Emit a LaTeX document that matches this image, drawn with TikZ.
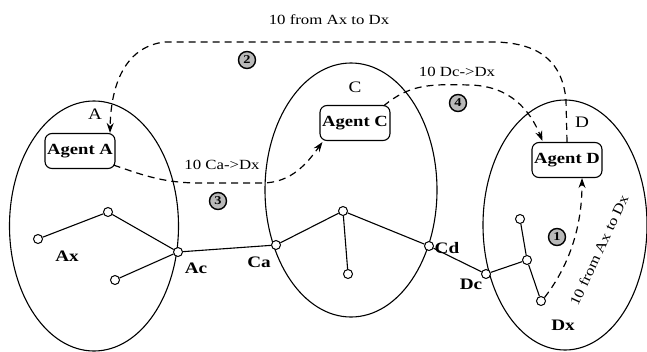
\documentclass[tikz,border=0pt]{standalone}
\usepackage{fontspec}
\setmainfont{Liberation Serif}[FakeStretch=1.2]
\usetikzlibrary{arrows.meta,calc,shapes.geometric}
\tikzset{
  region/.style={ellipse,draw,line width=1.1pt,inner sep=0pt},
  agent/.style={draw,line width=1.1pt,rounded corners=7pt,minimum width=70pt,minimum height=35pt,
                inner sep=1pt,font=\fontsize{15.5}{17}\selectfont\bfseries},
  host/.style={circle,draw,fill=white,line width=1pt,inner sep=0pt,minimum size=9pt},
  hlbl/.style={font=\fontsize{16}{18}\selectfont\bfseries},
  rlbl/.style={font=\fontsize{16}{18}\selectfont},
  msg/.style={font=\fontsize{14}{16}\selectfont},
  hop/.style={circle,draw,line width=1.4pt,fill=gray!55,inner sep=0pt,minimum size=17pt,
              font=\fontsize{12}{13}\selectfont\bfseries},
  link/.style={line width=1.1pt},
  mv/.style={-{Stealth[length=10pt,width=7pt]},line width=1.2pt,dash pattern=on 7pt off 5pt}
}
\begin{document}
\begin{tikzpicture}[x=1pt,y=-1pt]
\useasboundingbox (0,0) rectangle (647,351);
% regions
\node[region,minimum width=169pt,minimum height=250pt] (regA) at (94,226) {};
\node[region,minimum width=172pt,minimum height=254pt] (regC) at (351,190) {};
\node[region,minimum width=164pt,minimum height=250pt] (regD) at (565,225) {};
\node[rlbl] (nA) at (95,114) {A};
\node[rlbl] (nC) at (355,87) {C};
\node[rlbl] (nD) at (582,122) {D};

% agents
\node[agent] (agA) at (80,151) {Agent A};
\node[agent] (agC) at (355,123) {Agent C};
\node[agent] (agD) at (567,160) {Agent D};

% hosts
\node[host] (ax) at (38,239) {};
\node[host] (at) at (108,212) {};
\node[host] (ab) at (115,280) {};
\node[host] (ac) at (178,252) {};
\node[host] (ca) at (276,245) {};
\node[host] (ct) at (343,211) {};
\node[host] (cb) at (348,274) {};
\node[host] (cd) at (429,246) {};
\node[host] (dc) at (486,274) {};
\node[host] (dm) at (527,260) {};
\node[host] (dt) at (520,219) {};
\node[host] (dx) at (541,301) {};
\node[hlbl] (lax) at (67,256) {Ax};
\node[hlbl] (lac) at (196,268) {Ac};
\node[hlbl] (lca) at (259,262) {Ca};
\node[hlbl] (lcd) at (447,248) {Cd};
\node[hlbl] (ldc) at (471,284) {Dc};
\node[hlbl] (ldx) at (563,325) {Dx};

\draw[link] (ax) -- (at) -- (ac) -- (ab);
\draw[link] (ac) -- (ca) -- (ct) -- (cb);
\draw[link] (ct) -- (cd) -- (dc) -- (dm) -- (dt);
\draw[link] (dm) -- (dx);

% migrations
\draw[mv] (agD.north) -- (566,100) .. controls (562,58) and (535,43) .. (495,42)
  -- (165,42) .. controls (128,46) and (111,80) .. ($(agA.north)+(30,0)$);
\draw[mv] ($(agA.south east)+(-2,-4)$) .. controls (145,176) and (165,183) .. (200,183)
  -- (262,183) .. controls (292,183) and (308,162) .. ($(agC.south west)+(3,1)$);
\draw[mv] ($(agC.north east)+(-7,1)$) .. controls (410,84) and (430,84) .. (470,85)
  .. controls (510,86) and (530,110) .. ($(agD.north west)+(11,-1)$);
\draw[mv] (dx.north east) .. controls (572,262) and (582,222) .. ($(agD.south)+(15,0)$);

\node[msg] (m2) at (329,20) {10 from Ax to Dx};
\node[msg] (m3) at (222,165) {10 Ca->Dx};
\node[msg] (m4) at (457,72) {10 Dc->Dx};
\node[msg,rotate=65] (m1) at (599,250) {10 from Ax to Dx};
\node[hop] (h1) at (557,237) {1};
\node[hop] (h2) at (247,60) {2};
\node[hop] (h3) at (218,201) {3};
\node[hop] (h4) at (458,103) {4};
\end{tikzpicture}
\end{document}
